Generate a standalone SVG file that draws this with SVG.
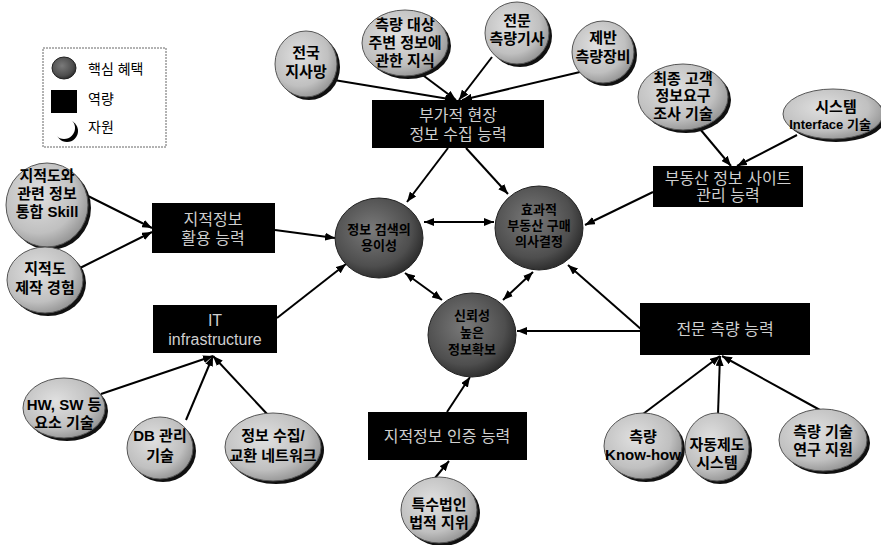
<svg xmlns="http://www.w3.org/2000/svg" width="881" height="545" viewBox="0 0 881 545">
<defs>
<radialGradient id="gRes" cx="40%" cy="38%" r="65%">
<stop offset="0" stop-color="#e0e0e0"/><stop offset="0.7" stop-color="#c0c0c0"/><stop offset="1" stop-color="#959595"/>
</radialGradient>
<radialGradient id="gCore" cx="42%" cy="40%" r="65%">
<stop offset="0" stop-color="#7a7a7a"/><stop offset="0.7" stop-color="#4e4e4e"/><stop offset="1" stop-color="#262626"/>
</radialGradient>
<marker id="ah" viewBox="0 0 10 8" markerWidth="10" markerHeight="8" refX="10" refY="4" orient="auto-start-reverse" markerUnits="userSpaceOnUse">
<path d="M0,0 L10,4 L0,8 z" fill="#000"/>
</marker>
</defs>
<style>
text{font-family:"Liberation Sans","Noto Sans CJK KR",sans-serif;text-anchor:middle}
.rt{font-size:15px;font-weight:bold;fill:#000}
.bt{font-size:16px;fill:#cfcfcf}
.ct{font-size:13px;font-weight:bold;fill:#000}
.lt{font-size:14px;fill:#000;text-anchor:start}
.sh{fill:#111}
.res{fill:url(#gRes);stroke:#555;stroke-width:1}
.core{fill:url(#gCore);stroke:#222;stroke-width:1}
.box{fill:#000}
.cn line{stroke:#000;stroke-width:2;marker-end:url(#ah)}
.cn line.dbl{marker-start:url(#ah)}
</style>
<rect width="881" height="545" fill="#fff"/>

<g id="legend">
<rect x="43" y="48" width="123" height="99" fill="none" stroke="#666" stroke-width="1" stroke-dasharray="2,1"/>
<ellipse cx="64" cy="68" rx="12" ry="11" class="core"/>
<text x="88" y="74" class="lt">핵심 혜택</text>
<rect x="51" y="90" width="26" height="23" fill="#000"/>
<text x="88" y="104" class="lt">역량</text>
<ellipse cx="67" cy="131" rx="11" ry="11" fill="#000"/>
<ellipse cx="64" cy="128" rx="11" ry="11" fill="#fff"/>
<text x="88" y="132" class="lt">자원</text>
</g>

<g class="cn" id="connectors">
<line x1="334" y1="80" x2="455" y2="100"/>
<line x1="420" y1="73" x2="456" y2="100"/>
<line x1="492" y1="57" x2="459" y2="100"/>
<line x1="580" y1="72" x2="462" y2="100"/>
<line x1="448" y1="148" x2="407" y2="202"/>
<line x1="466" y1="148" x2="508" y2="194"/>
<line x1="700" y1="129" x2="731" y2="166"/>
<line x1="797" y1="135" x2="737" y2="166"/>
<line x1="653" y1="192" x2="585" y2="225"/>
<line x1="86" y1="195" x2="152" y2="228"/>
<line x1="80" y1="268" x2="152" y2="232"/>
<line x1="275" y1="230" x2="335" y2="238"/>
<line x1="277" y1="318" x2="346" y2="264"/>
<line x1="101" y1="394" x2="213" y2="356"/>
<line x1="186" y1="420" x2="213" y2="356"/>
<line x1="268" y1="415" x2="213" y2="356"/>
<line class="dbl" x1="424" y1="222" x2="494" y2="222"/>
<line class="dbl" x1="405" y1="273" x2="442" y2="300"/>
<line class="dbl" x1="533" y1="272" x2="503" y2="300"/>
<line x1="642" y1="330" x2="568" y2="265"/>
<line x1="640" y1="331" x2="517" y2="331"/>
<line x1="643" y1="414" x2="720" y2="356"/>
<line x1="718" y1="414" x2="720" y2="356"/>
<line x1="820" y1="410" x2="722" y2="356"/>
<line x1="447" y1="412" x2="470" y2="377"/>
<line x1="435" y1="478" x2="449" y2="461"/>
</g>

<g id="b1"><rect class="box" x="372" y="100" width="172" height="48"/><text class="bt" x="458" y="121">부가적 현장</text><text class="bt" x="458" y="140">정보 수집 능력</text></g>
<g id="b2"><rect class="box" x="653" y="166" width="150" height="41"/><text class="bt" x="728" y="184">부동산 정보 사이트</text><text class="bt" x="728" y="201">관리 능력</text></g>
<g id="b3"><rect class="box" x="152" y="203" width="123" height="50"/><text class="bt" x="213" y="225">지적정보</text><text class="bt" x="213" y="244">활용 능력</text></g>
<g id="b4"><rect class="box" x="153" y="305" width="124" height="48"/><text class="bt" x="215" y="326">IT</text><text class="bt" x="215" y="345">infrastructure</text></g>
<g id="b5"><rect class="box" x="640" y="303" width="170" height="52"/><text class="bt" x="725" y="335">전문 측량 능력</text></g>
<g id="b6"><rect class="box" x="368" y="412" width="159" height="48"/><text class="bt" x="447" y="442">지적정보 인증 능력</text></g>

<g id="c1"><ellipse class="core" cx="379" cy="238" rx="44" ry="40"/><text class="ct" x="379" y="234">정보 검색의</text><text class="ct" x="379" y="250">용이성</text></g>
<g id="c2"><ellipse class="core" cx="539" cy="228" rx="44" ry="42"/><text class="ct" x="539" y="214">효과적</text><text class="ct" x="539" y="230">부동산 구매</text><text class="ct" x="539" y="246">의사결정</text></g>
<g id="c3"><ellipse class="core" cx="472" cy="335" rx="44" ry="42"/><text class="ct" x="472" y="320">신뢰성</text><text class="ct" x="472" y="337">높은</text><text class="ct" x="472" y="354">정보확보</text></g>

<g id="r1"><ellipse class="sh" cx="309" cy="67" rx="31" ry="33"/><ellipse class="res" cx="306" cy="64" rx="31" ry="33"/><text class="rt" x="306" y="58">전국</text><text class="rt" x="306" y="77">지사망</text></g>
<g id="r2"><ellipse class="sh" cx="408" cy="46" rx="43" ry="33"/><ellipse class="res" cx="405" cy="43" rx="43" ry="33"/><text class="rt" x="405" y="30">측량 대상</text><text class="rt" x="405" y="48">주변 정보에</text><text class="rt" x="405" y="66">관한 지식</text></g>
<g id="r3"><ellipse class="sh" cx="520" cy="36" rx="32" ry="31"/><ellipse class="res" cx="517" cy="33" rx="32" ry="31"/><text class="rt" x="517" y="26">전문</text><text class="rt" x="517" y="44">측량기사</text></g>
<g id="r4"><ellipse class="sh" cx="606" cy="55" rx="31" ry="31"/><ellipse class="res" cx="603" cy="52" rx="31" ry="31"/><text class="rt" x="603" y="43">제반</text><text class="rt" x="603" y="62">측량장비</text></g>
<g id="r5"><ellipse class="sh" cx="686" cy="100" rx="45" ry="33"/><ellipse class="res" cx="683" cy="97" rx="45" ry="33"/><text class="rt" x="683" y="84">최종 고객</text><text class="rt" x="683" y="101">정보요구</text><text class="rt" x="683" y="119">조사 기술</text></g>
<g id="r6"><ellipse class="sh" cx="836" cy="117" rx="50" ry="25"/><ellipse class="res" cx="833" cy="114" rx="50" ry="25"/><text class="rt" x="836" y="112">시스템</text><text class="rt" x="830" y="129" style="font-size:13px">Interface 기술</text></g>
<g id="r7"><ellipse class="sh" cx="50" cy="208" rx="41" ry="42"/><ellipse class="res" cx="47" cy="205" rx="41" ry="42"/><text class="rt" x="47" y="181">지적도와</text><text class="rt" x="47" y="199">관련 정보</text><text class="rt" x="47" y="217">통합 Skill</text></g>
<g id="r8"><ellipse class="sh" cx="48" cy="283" rx="38" ry="33"/><ellipse class="res" cx="45" cy="280" rx="38" ry="33"/><text class="rt" x="45" y="274">지적도</text><text class="rt" x="45" y="293">제작 경험</text></g>
<g id="r9"><ellipse class="sh" cx="67" cy="411" rx="41" ry="30"/><ellipse class="res" cx="64" cy="408" rx="41" ry="30"/><text class="rt" x="64" y="410">HW, SW 등</text><text class="rt" x="64" y="428">요소 기술</text></g>
<g id="r10"><ellipse class="sh" cx="163" cy="451" rx="33" ry="31"/><ellipse class="res" cx="160" cy="448" rx="33" ry="31"/><text class="rt" x="160" y="441">DB 관리</text><text class="rt" x="160" y="461">기술</text></g>
<g id="r11"><ellipse class="sh" cx="276" cy="450" rx="48" ry="34"/><ellipse class="res" cx="273" cy="447" rx="48" ry="34"/><text class="rt" x="273" y="441">정보 수집/</text><text class="rt" x="273" y="461">교환 네트워크</text></g>
<g id="r12"><ellipse class="sh" cx="442" cy="513" rx="38" ry="33"/><ellipse class="res" cx="439" cy="510" rx="38" ry="33"/><text class="rt" x="439" y="510">특수법인</text><text class="rt" x="439" y="528">법적 지위</text></g>
<g id="r13"><ellipse class="sh" cx="646" cy="449" rx="39" ry="33"/><ellipse class="res" cx="643" cy="446" rx="39" ry="33"/><text class="rt" x="643" y="442">측량</text><text class="rt" x="643" y="460">Know-how</text></g>
<g id="r14"><ellipse class="sh" cx="720" cy="450" rx="32" ry="34"/><ellipse class="res" cx="717" cy="447" rx="32" ry="34"/><text class="rt" x="717" y="450">자동제도</text><text class="rt" x="717" y="468">시스템</text></g>
<g id="r15"><ellipse class="sh" cx="826" cy="443" rx="44" ry="31"/><ellipse class="res" cx="823" cy="440" rx="44" ry="31"/><text class="rt" x="823" y="437">측량 기술</text><text class="rt" x="823" y="455">연구 지원</text></g>
</svg>
